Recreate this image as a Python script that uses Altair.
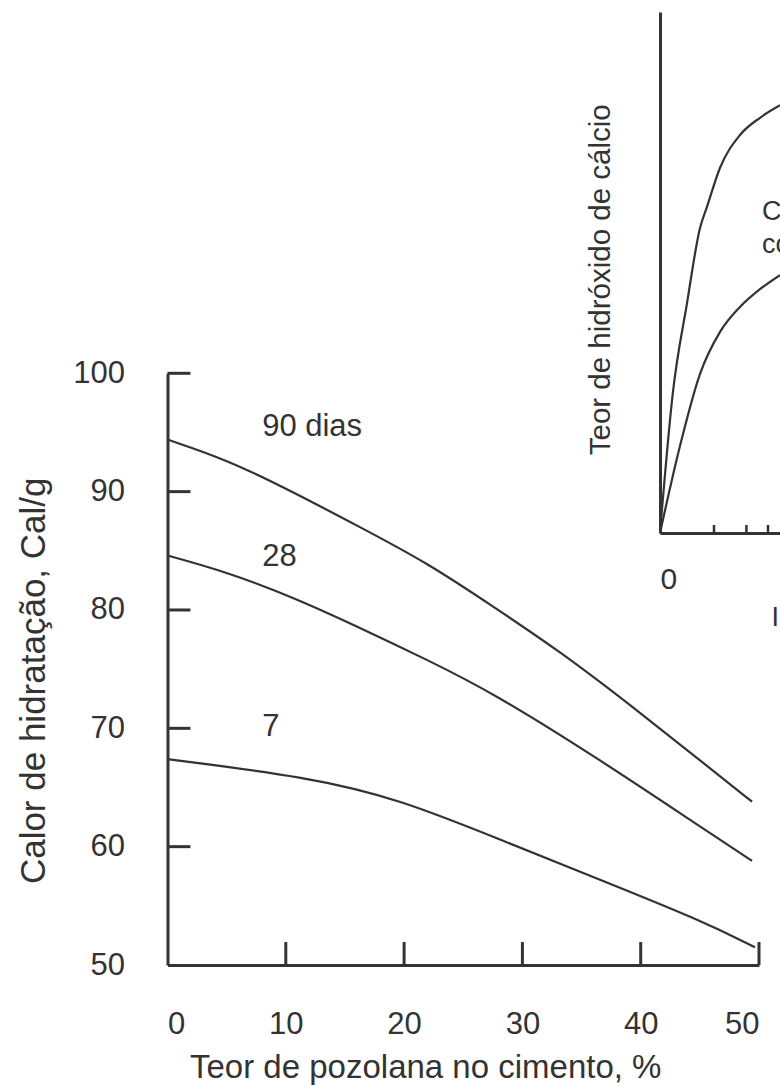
import altair as alt
import pandas as pd

# ---- Calor de hidratação x teor de pozolana ----
poz_90 = [0, 5.03, 10.57, 16.27, 21.93, 27.51, 33.18, 39.35, 45.01, 49.41]
cal_90 = [94.4, 92.7, 90.0, 87.0, 84.0, 80.3, 76.5, 71.8, 67.3, 63.8]

poz_28 = [0, 5.03, 10.57, 16.27, 21.93, 27.51, 36.56, 45.01, 49.41]
cal_28 = [84.6, 83.2, 81.1, 78.5, 75.8, 73.0, 67.35, 61.7, 58.8]

poz_7 = [0, 11.79, 19.65, 28.11, 36.56, 45.01, 49.66]
cal_7 = [67.4, 65.9, 64.0, 60.6, 57.2, 53.8, 51.5]

curve_names = ["90 dias", "28", "7"]
label_x = [8.0, 8.0, 8.0]
label_y = [95.5, 84.5, 70.1]

x_tick_values = [0, 10, 20, 30, 40, 50]
y_tick_values = [50, 60, 70, 80, 90, 100]
x_marks = [10, 20, 30, 40, 50]
y_marks = [60, 70, 80, 90, 100]

# ---- Teor de hidróxido de cálcio x idade ----
idade_comum = [0, 1.20, 2.50, 3.70, 4.35, 5.56, 7.41, 9.26, 11.11]
ca_comum = [0, 27.1, 44.1, 58.5, 62.6, 70.1, 76.4, 79.7, 82.1]

idade_poz = [0, 1.85, 3.70, 5.56, 7.41, 9.26, 11.11]
ca_poz = [0, 16.7, 30.5, 38.6, 43.4, 46.8, 49.5]

idade_marks = [5, 8, 10]
note_lines = ["Cimento Portland", "comum"]
note_x = [9.44, 9.44]
note_y = [61.6, 55.3]

FONT = "Liberation Sans"
INK = "#333333"
TICK_MAIN = 1.94   # inner tick length, data units
TICK_INSET = 1.54

curves = pd.concat([
    pd.DataFrame({"x": poz_90, "y": cal_90, "c": "90"}),
    pd.DataFrame({"x": poz_28, "y": cal_28, "c": "28"}),
    pd.DataFrame({"x": poz_7, "y": cal_7, "c": "7"}),
])
labels = pd.DataFrame({"x": label_x, "y": label_y, "t": curve_names})
xt = pd.DataFrame({"x": x_marks, "y": [50] * len(x_marks),
                   "y2": [50 + TICK_MAIN] * len(x_marks)})
yt = pd.DataFrame({"x": [0] * len(y_marks), "x2": [TICK_MAIN] * len(y_marks),
                   "y": y_marks})

main_x = alt.X(
    "x:Q",
    scale=alt.Scale(domain=[0, 50], nice=False, zero=False),
    axis=alt.Axis(
        values=x_tick_values, ticks=False, grid=False,
        domainColor=INK, domainWidth=3,
        labelFont=FONT, labelFontSize=31, labelColor=INK, labelPadding=44,
        title="Teor de pozolana no cimento, %",
        titleFont=FONT, titleFontSize=33, titleColor=INK, titleFontWeight="normal",
        titleX=22, titleY=112, titleAlign="left", titleBaseline="alphabetic",
    ),
)
main_y = alt.Y(
    "y:Q",
    scale=alt.Scale(domain=[50, 100], nice=False, zero=False),
    axis=alt.Axis(
        values=y_tick_values, ticks=False, grid=False,
        domainColor=INK, domainWidth=3,
        labelFont=FONT, labelFontSize=31, labelColor=INK, labelPadding=43,
        title="Calor de hidratação, Cal/g",
        titleFont=FONT, titleFontSize=35, titleColor=INK, titleFontWeight="normal",
        titleX=-134.5, titleY=307, titleAlign="center", titleBaseline="middle",
        titleAngle=270,
    ),
)

# smooth B-spline through the read-off points
main_lines = alt.Chart(curves).mark_line(
    interpolate="basis", color=INK, strokeWidth=2.2
).encode(x=main_x, y=main_y, detail="c:N")

main_xt = alt.Chart(xt).mark_rule(color=INK, strokeWidth=3).encode(
    x=main_x, y=main_y, y2="y2:Q")
main_yt = alt.Chart(yt).mark_rule(color=INK, strokeWidth=3).encode(
    x=main_x, x2="x2:Q", y=main_y)

main_text = alt.Chart(labels).mark_text(
    font=FONT, fontSize=31, color=INK, align="left", baseline="middle"
).encode(x=main_x, y=main_y, text="t:N")

main_layer = alt.layer(main_lines, main_xt, main_yt, main_text)

# ---- inset panel ----
ins_curves = pd.concat([
    pd.DataFrame({"x": idade_comum, "y": ca_comum, "c": "comum"}),
    pd.DataFrame({"x": idade_poz, "y": ca_poz, "c": "pozolanico"}),
])
ins_t = pd.DataFrame({"x": idade_marks, "y": [0] * len(idade_marks),
                      "y2": [TICK_INSET] * len(idade_marks)})
ins_notes = pd.DataFrame({"x": note_x, "y": note_y, "t": note_lines})

ins_x = alt.X(
    "x:Q",
    scale=alt.Scale(domain=[0, 20], range=[492.5, 708.5], nice=False, zero=False),
    axis=alt.Axis(
        orient="bottom", offset=-432, values=[0], ticks=False, grid=False,
        domainColor=INK, domainWidth=3,
        labelFont=FONT, labelFontSize=30, labelColor=INK, labelPadding=31,
        title="Idade, dias",
        titleFont=FONT, titleFontSize=27, titleColor=INK, titleFontWeight="normal",
        titleX=603.5, titleY=84, titleAlign="left", titleBaseline="middle",
    ),
)
ins_y = alt.Y(
    "y:Q",
    scale=alt.Scale(domain=[0, 100], range=[159.7, -361.3], nice=False, zero=False),
    axis=alt.Axis(
        orient="left", offset=-492.5, labels=False, ticks=False, grid=False,
        domainColor=INK, domainWidth=3,
        title="Teor de hidróxido de cálcio",
        titleFont=FONT, titleFontSize=29.5, titleColor=INK, titleFontWeight="normal",
        titleX=-60, titleY=-94, titleAlign="center", titleBaseline="middle",
        titleAngle=270,
    ),
)

ins_lines = alt.Chart(ins_curves).mark_line(
    interpolate="monotone", color=INK, strokeWidth=2.2
).encode(x=ins_x, y=ins_y, detail="c:N")
ins_ticks = alt.Chart(ins_t).mark_rule(color=INK, strokeWidth=2.5).encode(
    x=ins_x, y=ins_y, y2="y2:Q")
ins_text = alt.Chart(ins_notes).mark_text(
    font=FONT, fontSize=27, color=INK, align="left", baseline="middle"
).encode(x=ins_x, y=ins_y, text="t:N")

inset_layer = alt.layer(ins_lines, ins_ticks, ins_text)

chart = alt.layer(main_layer, inset_layer).resolve_scale(
    x="independent", y="independent"
).properties(
    width=591.5,
    height=591.7,
    padding={"left": 167.5, "top": 373.3, "right": 21, "bottom": 121},
    autosize="none",
    background="white",
).configure_view(stroke=None)

chart.save("out.html", embed_options={"renderer": "svg", "actions": False})
